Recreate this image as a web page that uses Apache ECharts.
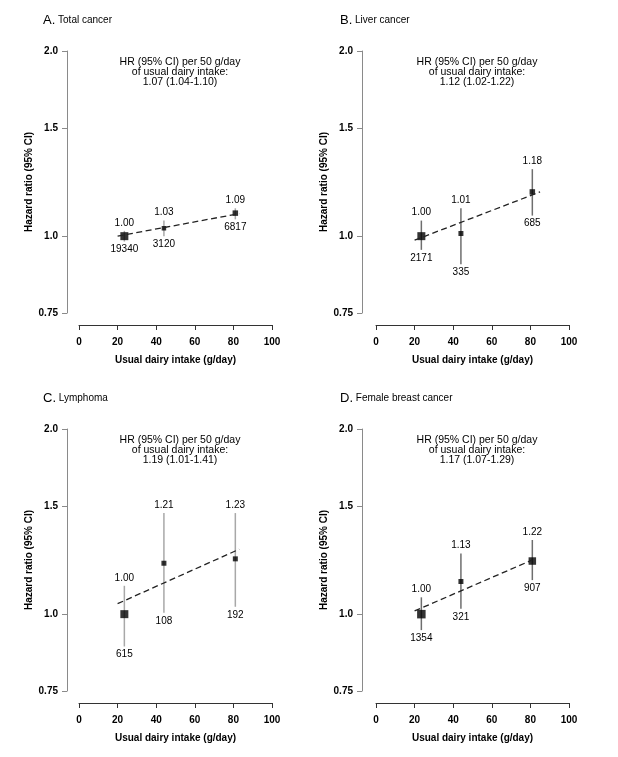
<!DOCTYPE html>
<html>
<head>
<meta charset="utf-8">
<script src="https://cdn.jsdelivr.net/npm/echarts@6/dist/echarts.min.js"></script>
<style>
html,body{margin:0;padding:0;background:#fff;}
#chart{width:618px;height:757px;}
</style>
</head>
<body>
<div id="chart"></div>
<script>
// ---- data ----
var intake = [23.5, 44, 81];                       // usual dairy intake (g/day), per group
var xTicks = [0, 20, 40, 60, 80, 100];
var yTickValues = [0.75, 1.0, 1.5, 2.0];
var yTickLabels = ['0.75', '1.0', '1.5', '2.0'];

var panelLetters = ['A.', 'B.', 'C.', 'D.'];
var panelTitles = ['Total cancer', 'Liver cancer', 'Lymphoma', 'Female breast cancer'];
var trendText = ['1.07 (1.04-1.10)', '1.12 (1.02-1.22)', '1.19 (1.01-1.41)', '1.17 (1.07-1.29)'];

var hrA = [1.00, 1.03, 1.09];
var loA = [0.98, 1.00, 1.065];
var hiA = [1.02, 1.06, 1.11];
var nA = ['19340', '3120', '6817'];
var hrLabA = ['1.00', '1.03', '1.09'];
var trendXA = [20, 83];
var trendYA = [1.00, 1.088];

var hrB = [1.00, 1.01, 1.18];
var loB = [0.95, 0.90, 1.08];
var hiB = [1.06, 1.11, 1.285];
var nB = ['2171', '335', '685'];
var hrLabB = ['1.00', '1.01', '1.18'];
var trendXB = [20, 85];
var trendYB = [0.985, 1.18];

var hrC = [1.00, 1.21, 1.23];
var loC = [0.886, 1.005, 1.028];
var hiC = [1.112, 1.46, 1.46];
var nC = ['615', '108', '192'];
var hrLabC = ['1.00', '1.21', '1.23'];
var trendXC = [20, 83];
var trendYC = [1.04, 1.275];

var hrD = [1.00, 1.13, 1.22];
var loD = [0.942, 1.02, 1.136];
var hiD = [1.065, 1.255, 1.32];
var nD = ['1354', '321', '907'];
var hrLabD = ['1.00', '1.13', '1.22'];
var trendXD = [20, 81];
var trendYD = [1.012, 1.225];

// ---- styles (not data) ----
var symbolSizesA = [8, 4.5, 5.5];
var symbolSizesB = [8, 5, 5.5];
var symbolSizesC = [8, 5, 5];
var symbolSizesD = [8.5, 5, 7.5];
var barColors = ['#a8a8a8', '#6e6e6e', '#a8a8a8', '#6e6e6e'];

var panels = [
  {hr: hrA, lo: loA, hi: hiA, n: nA, lab: hrLabA, tx: trendXA, ty: trendYA, sz: symbolSizesA},
  {hr: hrB, lo: loB, hi: hiB, n: nB, lab: hrLabB, tx: trendXB, ty: trendYB, sz: symbolSizesB},
  {hr: hrC, lo: loC, hi: hiC, n: nC, lab: hrLabC, tx: trendXC, ty: trendYC, sz: symbolSizesC},
  {hr: hrD, lo: loD, hi: hiD, n: nD, lab: hrLabD, tx: trendXD, ty: trendYD, sz: symbolSizesD}
];

var FONT = '"Liberation Sans", Arial, Helvetica, sans-serif';
var L = Math.log;
var yTickLog = yTickValues.map(function (v) { return L(v); });
function yLabel(v) {
  for (var i = 0; i < yTickLog.length; i++) {
    if (Math.abs(yTickLog[i] - v) < 1e-6) return yTickLabels[i];
  }
  return '';
}

var gridPos = [
  {left: 79, top: 51},
  {left: 376, top: 51},
  {left: 79, top: 429},
  {left: 376, top: 429}
];
var gridW = 193, gridH = 262;

var grids = [], xAxes = [], yAxes = [], series = [], graphics = [];

panels.forEach(function (p, k) {
  var g = gridPos[k];
  grids.push({left: g.left, top: g.top, width: gridW, height: gridH, containLabel: false});
  xAxes.push({
    type: 'value', gridIndex: k, min: 0, max: 100, interval: 20, offset: 12,
    name: 'Usual dairy intake (g/day)', nameLocation: 'middle', nameGap: 30,
    nameTextStyle: {fontFamily: FONT, fontSize: 10, fontWeight: 'bold', color: '#000'},
    axisLine: {show: true, onZero: false, lineStyle: {color: '#333', width: 1}},
    axisTick: {show: true, length: 5, lineStyle: {color: '#333'}},
    axisLabel: {fontFamily: FONT, fontSize: 10, fontWeight: 'bold', color: '#000', margin: 12,
      customValues: xTicks},
    splitLine: {show: false}
  });
  yAxes.push({
    type: 'value', gridIndex: k, min: L(0.75), max: L(2.0), offset: k % 2 === 0 ? 12 : 14,
    name: 'Hazard ratio (95% CI)', nameLocation: 'middle', nameGap: 33,
    nameTextStyle: {fontFamily: FONT, fontSize: 10, fontWeight: 'bold', color: '#000'},
    axisLine: {show: true, onZero: false, lineStyle: {color: '#8a8a8a', width: 1}},
    axisTick: {show: true, length: 5, lineStyle: {color: '#8a8a8a'}, customValues: yTickLog},
    axisLabel: {fontFamily: FONT, fontSize: 10, fontWeight: 'bold', color: '#000', margin: 9,
      customValues: yTickLog, formatter: function (v) { return yLabel(v); }},
    splitLine: {show: false}
  });

  // error bars with HR label above and count label below
  var barData = intake.map(function (x, i) {
    return [x, L(p.lo[i]), L(p.hi[i]), p.lab[i], p.n[i]];
  });
  (function (color, bd) {
    series.push({
      type: 'custom', xAxisIndex: k, yAxisIndex: k, z: 2,
      data: bd,
      renderItem: function (params, api) {
        var x = api.value(0);
        var lo = api.coord([x, api.value(1)]);
        var hi = api.coord([x, api.value(2)]);
        var d = bd[params.dataIndex];
        return {
          type: 'group',
          children: [
            {type: 'line', shape: {x1: lo[0], y1: lo[1], x2: hi[0], y2: hi[1]},
             style: {stroke: color, lineWidth: 1.5}},
            {type: 'text', x: hi[0], y: hi[1] - 3,
             style: {text: d[3], fill: '#000', font: '10px ' + FONT, align: 'center', verticalAlign: 'bottom'}},
            {type: 'text', x: lo[0], y: lo[1] + 3,
             style: {text: d[4], fill: '#000', font: '10px ' + FONT, align: 'center', verticalAlign: 'top'}}
          ]
        };
      }
    });
  })(barColors[k], barData);

  // trend line
  series.push({
    type: 'line', xAxisIndex: k, yAxisIndex: k, z: 4,
    data: p.tx.map(function (x, i) { return [x, L(p.ty[i])]; }),
    symbol: 'none', silent: true,
    lineStyle: {color: '#222', width: 1.3, type: [6, 3.5]}
  });

  // HR points
  var sizes = p.sz;
  series.push({
    type: 'scatter', xAxisIndex: k, yAxisIndex: k, z: 3,
    data: intake.map(function (x, i) { return [x, L(p.hr[i])]; }),
    symbol: 'rect',
    symbolSize: function (v, params) { return sizes[params.dataIndex]; },
    itemStyle: {color: '#000'}
  });

  // panel title
  graphics.push({
    type: 'text', left: g.left - 36, top: g.top - 37,
    style: {
      text: '{a|' + panelLetters[k] + '}{b| ' + panelTitles[k] + '}',
      rich: {
        a: {fontFamily: FONT, fontSize: 13, fill: '#000'},
        b: {fontFamily: FONT, fontSize: 10, fill: '#000'}
      }
    }
  });
  // trend annotation
  graphics.push({
    type: 'text', x: g.left + 101, y: g.top + 6,
    style: {
      text: 'HR (95% CI) per 50 g/day\nof usual dairy intake:\n' + trendText[k],
      fontFamily: FONT, fontSize: 10.5, lineHeight: 10, fill: '#000', align: 'center', verticalAlign: 'top'
    }
  });
});

var chart = echarts.init(document.getElementById('chart'), null, {renderer: 'canvas'});
chart.setOption({
  backgroundColor: '#fff',
  animation: false,
  grid: grids,
  xAxis: xAxes,
  yAxis: yAxes,
  series: series,
  graphic: graphics
});
</script>
</body>
</html>
